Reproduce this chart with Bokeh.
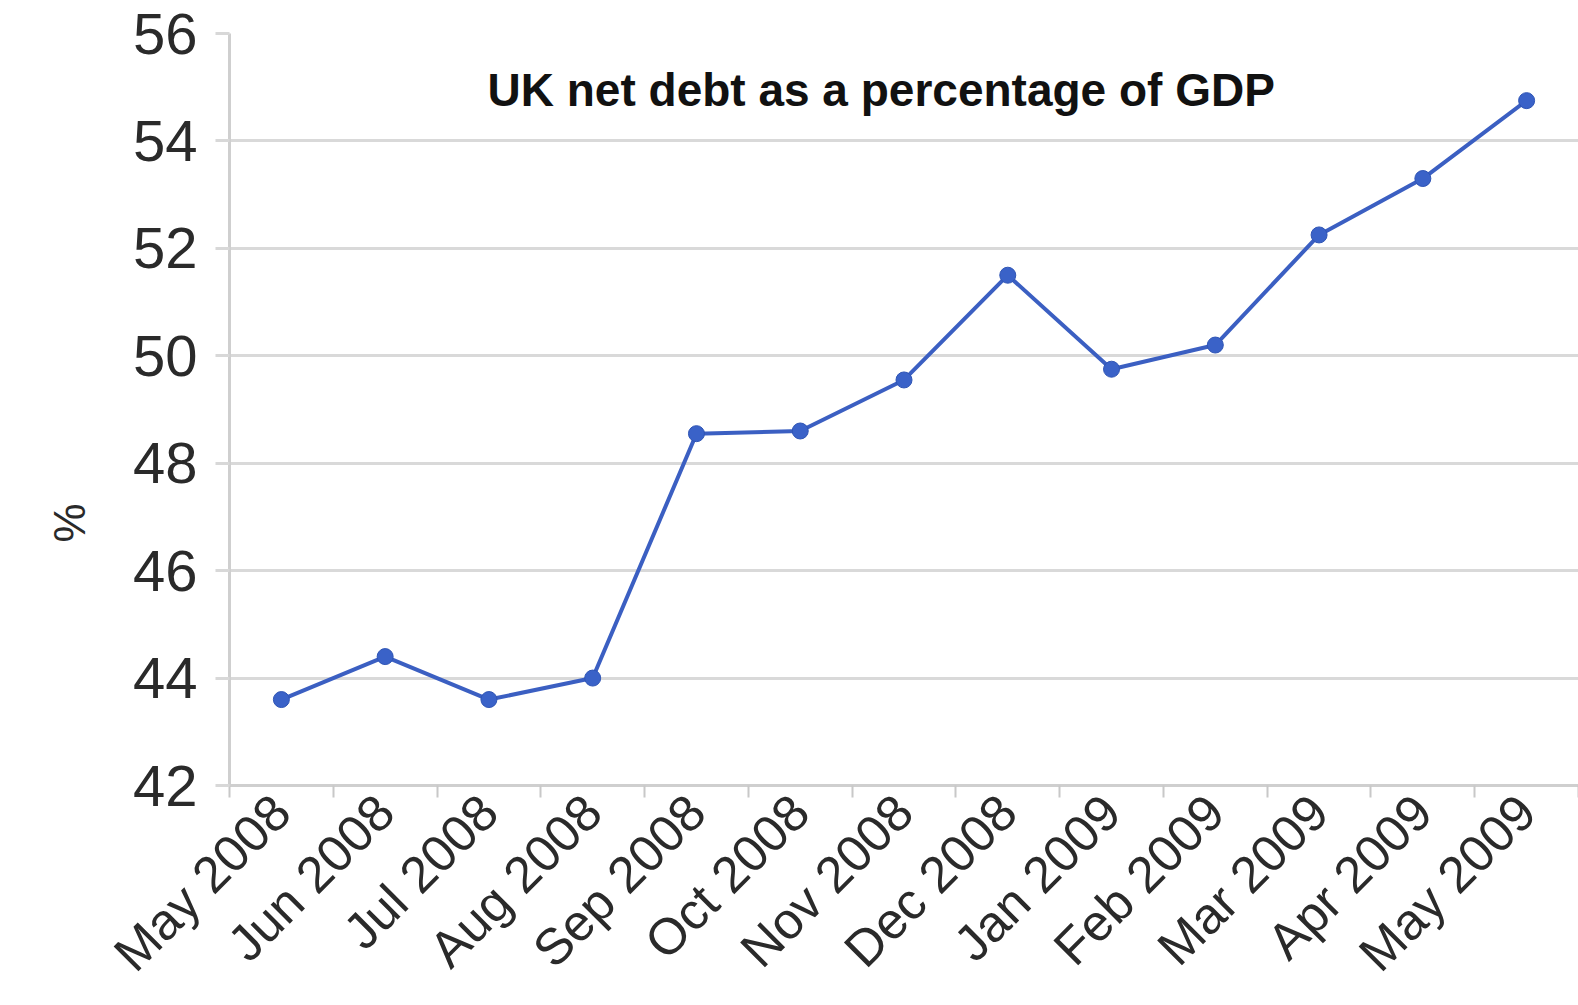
import math
from bokeh.plotting import figure
from bokeh.models import FixedTicker, Range1d, Title
from bokeh.core.properties import value
from bokeh.embed import file_html
from bokeh.resources import INLINE

months = ["May 2008", "Jun 2008", "Jul 2008", "Aug 2008", "Sep 2008", "Oct 2008",
          "Nov 2008", "Dec 2008", "Jan 2009", "Feb 2009", "Mar 2009", "Apr 2009", "May 2009"]
net_debt_pct = [43.6, 44.4, 43.6, 44.0, 48.55, 48.6, 49.55, 51.5, 49.75, 50.2, 52.25, 53.3, 54.75]
y_ticks = [42, 44, 46, 48, 50, 52, 54, 56]
chart_title = "UK net debt as a percentage of GDP"
y_label = "%"

n = len(months)
xs = [i + 0.5 for i in range(n)]

p = figure(width=1578, height=1005, output_backend="svg", toolbar_location=None,
           x_range=Range1d(0, n), y_range=Range1d(42, 56),
           min_border_left=229, min_border_right=0, min_border_top=33, min_border_bottom=0)
p.outline_line_color = None
p.background_fill_color = "white"

# title inside plot area
p.text(x=[6.28], y=[54.95], text=[chart_title],
       text_font_size="46px", text_font_style="bold", text_align="center",
       text_baseline="middle", text_color="#111111", text_font=value("Liberation Sans"))

p.line(xs, net_debt_pct, line_color="#3b5fc2", line_width=4)
p.scatter(xs, net_debt_pct, size=16, fill_color="#3a62c8", line_color="#2f55b5", line_width=1)

# x axis: labels at centers, ticks at category boundaries
xt = FixedTicker(ticks=xs, minor_ticks=list(range(n + 1)))
p.xaxis.ticker = xt
p.xaxis.major_label_overrides = {x: m for x, m in zip(xs, months)}
p.xaxis.major_tick_line_color = None
p.xaxis.major_tick_out = 10
p.xaxis.minor_tick_line_color = "#c8c8c8"
p.xaxis.minor_tick_line_width = 2
p.xaxis.minor_tick_out = 12
p.xaxis.minor_tick_in = 0
p.xaxis.axis_line_color = "#cfcfcf"
p.xaxis.axis_line_width = 3
p.xaxis.major_label_orientation = math.pi / 4
p.xaxis.major_label_text_font_size = "51px"
p.xaxis.major_label_text_font = "Liberation Sans"
p.xaxis.major_label_text_color = "#2a2a2a"
p.xaxis.major_label_standoff = 6
p.xgrid.grid_line_color = None

# y axis
p.yaxis.ticker = FixedTicker(ticks=y_ticks)
p.yaxis.minor_tick_line_color = None
p.yaxis.major_tick_line_color = "#d8d8d8"
p.yaxis.major_tick_line_width = 3
p.yaxis.major_tick_out = 14
p.yaxis.major_tick_in = 0
p.yaxis.axis_line_color = "#cfcfcf"
p.yaxis.axis_line_width = 3
p.yaxis.major_label_text_font_size = "58px"
p.yaxis.major_label_text_font = "Liberation Sans"
p.yaxis.major_label_text_color = "#2a2a2a"
p.yaxis.major_label_standoff = 18
p.ygrid.grid_line_color = "#d9d9d9"
p.ygrid.grid_line_width = 3

ytitle = Title(text=y_label, align="left", offset=243, text_font_size="44px",
               text_font="Liberation Sans", text_font_style="normal", text_color="#2a2a2a",
               standoff=72)
p.add_layout(ytitle, "left")

open("out.html", "w").write(file_html(p, INLINE))
